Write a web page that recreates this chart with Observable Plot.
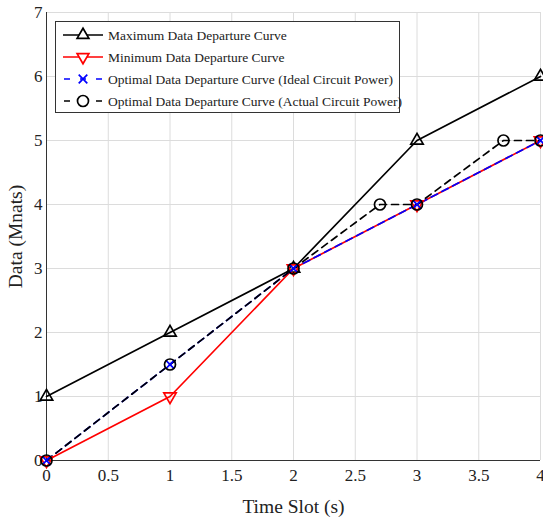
<!DOCTYPE html>
<html><head><meta charset="utf-8">
<script src="https://cdn.jsdelivr.net/npm/d3@7"></script>
<script src="https://cdn.jsdelivr.net/npm/@observablehq/plot@0.6"></script>
<style>
body{margin:0;background:#fff;font-family:"Times New Roman","Liberation Serif",Tinos,serif;}
#wrap{position:relative;width:543px;height:521px;}
#legend{position:absolute;left:0;top:0;}
#legend text{font-family:"Times New Roman","Liberation Serif",Tinos,serif;}
</style></head><body>
<div id="wrap"></div>
<script>
const timeSlots = [0, 1, 2, 3, 4];
const maxData = [1, 2, 3, 5, 6];
const minData = [0, 1, 3, 4, 5];
const idealData = [0, 1.5, 3, 4, 5];
const actualTime = [0, 1, 2, 2.7, 3, 3.7, 4];
const actualData = [0, 1.5, 3, 4, 4, 5, 5];
const xTicks = [0, 0.5, 1, 1.5, 2, 2.5, 3, 3.5, 4];
const yTicks = [0, 1, 2, 3, 4, 5, 6, 7];
const seriesNames = [
  "Maximum Data Departure Curve",
  "Minimum Data Departure Curve",
  "Optimal Data Departure Curve (Ideal Circuit Power)",
  "Optimal Data Departure Curve (Actual Circuit Power)"
];

const FONT = '"Times New Roman","Liberation Serif",Tinos,serif';
const maxPts = timeSlots.map((t, i) => ({t, v: maxData[i]}));
const minPts = timeSlots.map((t, i) => ({t, v: minData[i]}));
const idealPts = timeSlots.map((t, i) => ({t, v: idealData[i]}));
const actualPts = actualTime.map((t, i) => ({t, v: actualData[i]}));

const chart = Plot.plot({
  width: 543, height: 521,
  marginLeft: 46, marginRight: 3, marginTop: 12, marginBottom: 61,
  style: {fontFamily: FONT, fontSize: "17px", color: "#222", background: "white"},
  x: {domain: [0, 4], ticks: xTicks, tickFormat: d => String(d), label: null},
  y: {domain: [0, 7], ticks: yTicks, tickFormat: d => String(d), label: null},
  marks: [
    Plot.gridX(xTicks, {stroke: "#dcdcdc", strokeOpacity: 1, strokeWidth: 1}),
    Plot.gridY(yTicks, {stroke: "#dcdcdc", strokeOpacity: 1, strokeWidth: 1}),
    Plot.ruleX([0], {stroke: "#333", strokeWidth: 1}),
    Plot.ruleY([0], {stroke: "#333", strokeWidth: 1}),
    Plot.axisX(xTicks, {tickSize: 0, tickPadding: 8, tickFormat: d => String(d), fontSize: 17, label: null}),
    Plot.axisY(yTicks, {tickSize: 0, tickPadding: 4, tickFormat: d => String(d), fontSize: 17, label: null}),
    Plot.axisX({ticks: [], label: "Time Slot (s)", labelAnchor: "center", labelArrow: "none", labelOffset: 52, fontSize: 19.5, tickSize: 0}),
    Plot.axisY({ticks: [], label: "Data (Mnats)", labelAnchor: "center", labelArrow: "none", labelOffset: 38, fontSize: 19.5, tickSize: 0}),
    Plot.line(maxPts, {x: "t", y: "v", stroke: "black", strokeWidth: 1.7}),
    Plot.line(minPts, {x: "t", y: "v", stroke: "#ff0000", strokeWidth: 1.7}),
    Plot.line(idealPts, {x: "t", y: "v", stroke: "#0000ff", strokeWidth: 1.7, strokeDasharray: "7,5"}),
    Plot.line(actualPts, {x: "t", y: "v", stroke: "black", strokeWidth: 1.7, strokeDasharray: "7,5"}),
    Plot.dot(maxPts, {x: "t", y: "v", symbol: "triangle", r: 4.6, stroke: "black", fill: "none", strokeWidth: 1.7}),
    Plot.dot(minPts, {x: "t", y: "v", symbol: "triangle", rotate: 180, r: 4.6, stroke: "#ff0000", fill: "none", strokeWidth: 1.7}),
    Plot.dot(idealPts, {x: "t", y: "v", symbol: "times", r: 4, stroke: "#0000ff", strokeWidth: 1.7}),
    Plot.dot(actualPts, {x: "t", y: "v", symbol: "circle", r: 5.5, stroke: "black", fill: "none", strokeWidth: 1.7})
  ]
});
document.getElementById("wrap").appendChild(chart);

// Legend overlay
const lg = d3.select("#wrap").append("svg").attr("id", "legend").attr("width", 543).attr("height", 521)
  .style("pointer-events", "none");
const box = {x: 55, y: 21, w: 344, h: 91};
lg.append("rect").attr("x", box.x + 0.5).attr("y", box.y + 0.5).attr("width", box.w).attr("height", box.h)
  .attr("fill", "white").attr("stroke", "#333").attr("stroke-width", 1);
const styles = [
  {stroke: "black", dash: null, sym: "up"},
  {stroke: "#ff0000", dash: null, sym: "down"},
  {stroke: "#0000ff", dash: "7,5", sym: "x"},
  {stroke: "black", dash: "7,5", sym: "o"}
];
seriesNames.forEach((name, i) => {
  const y = 35 + i * 22;
  const s = styles[i];
  lg.append("line").attr("x1", 63).attr("x2", 103).attr("y1", y).attr("y2", y)
    .attr("stroke", s.stroke).attr("stroke-width", 1.7).attr("stroke-dasharray", s.dash ? "6,10" : null)
    .attr("stroke-dashoffset", s.dash ? -1 : null);
  const g = lg.append("g").attr("transform", `translate(83,${y})`);
  if (s.sym === "up") g.append("path").attr("d", d3.symbol(d3.symbolTriangle, 60)()).attr("fill", "white").attr("stroke", s.stroke).attr("stroke-width", 1.7);
  if (s.sym === "down") g.append("path").attr("d", d3.symbol(d3.symbolTriangle, 60)()).attr("transform", "rotate(180)").attr("fill", "white").attr("stroke", s.stroke).attr("stroke-width", 1.7);
  if (s.sym === "x") g.append("path").attr("d", d3.symbol(d3.symbolTimes, 50)()).attr("fill", "none").attr("stroke", s.stroke).attr("stroke-width", 1.7);
  if (s.sym === "o") g.append("circle").attr("r", 5.5).attr("fill", "white").attr("stroke", s.stroke).attr("stroke-width", 1.7);
  lg.append("text").attr("x", 108).attr("y", y).attr("dy", "0.35em")
    .attr("font-size", 13.5).attr("fill", "#222")
    .text(name);
});
</script>
</body></html>
